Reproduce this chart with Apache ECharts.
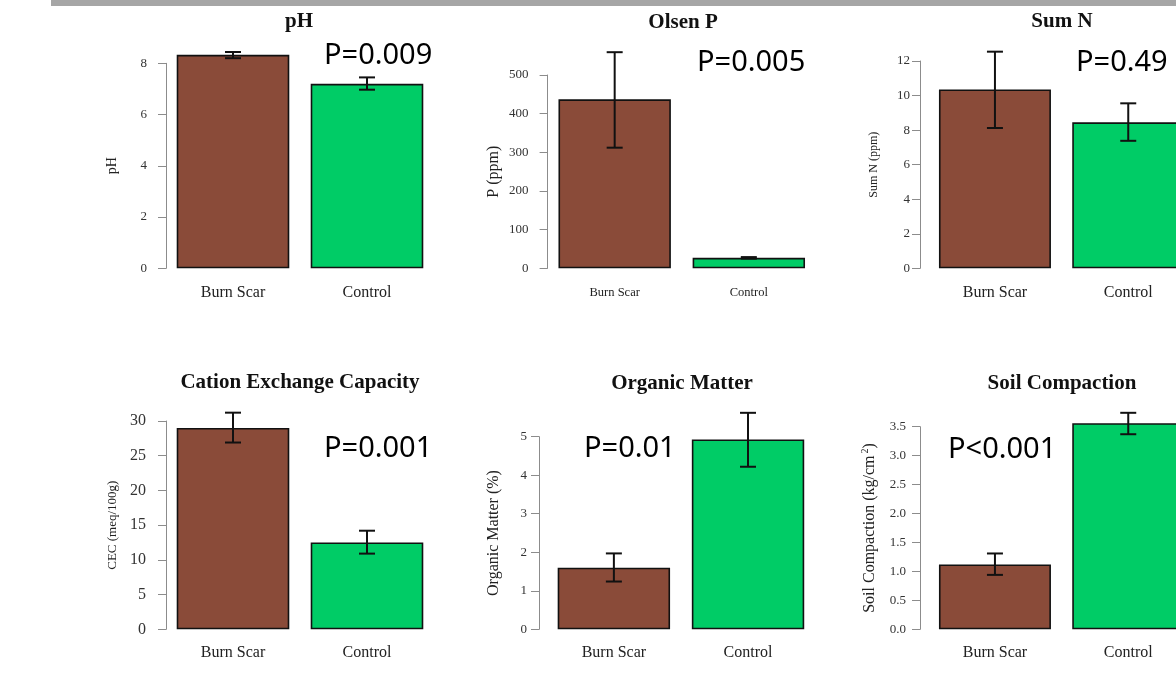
<!DOCTYPE html>
<html>
<head>
<meta charset="utf-8">
<script src="https://cdn.jsdelivr.net/npm/echarts@6/dist/echarts.min.js"></script>
<style>
  html, body { margin: 0; padding: 0; background: #ffffff; }
  #chart { width: 1176px; height: 673px; }
</style>
</head>
<body>
<div id="chart"></div>
<script>
// ---------------- data ----------------
var categories = ['Burn Scar', 'Control'];

var phMean = [8.33, 7.20];
var phLow  = [8.20, 6.97];
var phHigh = [8.44, 7.45];

var olsenMean = [437, 27];
var olsenLow  = [312, 25];
var olsenHigh = [559, 29];

var sumNMean = [10.35, 8.45];
var sumNLow  = [8.12, 7.38];
var sumNHigh = [12.54, 9.55];

var cecMean = [29.0, 12.5];
var cecLow  = [26.9, 10.9];
var cecHigh = [31.2, 14.2];

var omMean = [1.60, 4.93];
var omLow  = [1.24, 4.22];
var omHigh = [1.97, 5.62];

var soilMean = [1.12, 3.56];
var soilLow  = [0.94, 3.37];
var soilHigh = [1.31, 3.74];

var panelTitles = ['pH', 'Olsen P', 'Sum N', 'Cation Exchange Capacity', 'Organic Matter', 'Soil Compaction'];
var yNames = ['pH', 'P (ppm)', 'Sum N (ppm)', 'CEC (meq/100g)', 'Organic Matter (%)', 'Soil Compaction (kg/cm{sup|2})'];
var pValues = ['P=0.009', 'P=0.005', 'P=0.49', 'P=0.001', 'P=0.01', 'P<0.001'];
var yMaxTicks = [8, 500, 12, 30, 5, 3.5];
var yIntervals = [2, 100, 2, 5, 1, 0.5];
var yDecimals = [0, 0, 0, 0, 0, 1];

var means = [phMean, olsenMean, sumNMean, cecMean, omMean, soilMean];
var lows  = [phLow, olsenLow, sumNLow, cecLow, omLow, soilLow];
var highs = [phHigh, olsenHigh, sumNHigh, cecHigh, omHigh, soilHigh];

// ---------------- layout (pixels) ----------------
var layout = [
  { left: 166,   top: 63.3,  width: 268,   height: 205,   offset: 0,   bw: 112.6, xFont: 16, xMargin: 16, yFont: 13, yMargin: 19, nameFont: 14, nameGap: 47,
    title: [299, 22], p: [324, 56] },
  { left: 547.6, top: 75,    width: 268.3, height: 193.3, offset: 0,   bw: 112.4, xFont: 12.5, xMargin: 18, yFont: 13, yMargin: 19, nameFont: 16, nameGap: 46,
    title: [683, 23], p: [697, 63] },
  { left: 928.3, top: 61,    width: 266.6, height: 207.3, offset: 8.3, bw: 112,   xFont: 16, xMargin: 16, yFont: 13, yMargin: 10, nameFont: 12, nameGap: 40,
    title: [1062, 22], p: [1076, 63] },
  { left: 166,   top: 421,   width: 268,   height: 208.3, offset: 0,   bw: 112.6, xFont: 16, xMargin: 15, yFont: 16, yMargin: 20, nameFont: 13, nameGap: 47,
    title: [300, 383], p: [324, 449] },
  { left: 546.8, top: 436.7, width: 268.3, height: 192.6, offset: 7.8, bw: 112.4, xFont: 16, xMargin: 15, yFont: 13, yMargin: 12, nameFont: 16, nameGap: 37,
    title: [682, 384], p: [584, 449] },
  { left: 928.3, top: 426.7, width: 266.6, height: 202.6, offset: 8.3, bw: 112,   xFont: 16, xMargin: 15, yFont: 13, yMargin: 14, nameFont: 16, nameGap: 40,
    title: [1062, 384], p: [948, 450] }
];

var barColors = ['#8A4B39', '#00CC66'];
var serif = '"Liberation Serif", "Times New Roman", serif';

var grids = [], xAxes = [], yAxes = [], series = [], titles = [];

for (var i = 0; i < 6; i++) {
  var L = layout[i];
  grids.push({ left: L.left, top: L.top, width: L.width, height: L.height, outerBoundsMode: 'none', containLabel: false });
  xAxes.push({
    type: 'category', gridIndex: i, data: categories,
    axisLine: { show: false }, axisTick: { show: false }, splitLine: { show: false },
    axisLabel: { fontFamily: serif, fontSize: L.xFont, color: '#222', margin: L.xMargin }
  });
  (function (dec) {
    yAxes.push({
      type: 'value', gridIndex: i, min: 0, max: yMaxTicks[i], interval: yIntervals[i], offset: L.offset,
      name: yNames[i], nameLocation: 'middle', nameGap: L.nameGap,
      nameTextStyle: { fontFamily: serif, fontSize: L.nameFont, color: '#222',
        rich: { sup: { fontFamily: serif, fontSize: 10, color: '#222', padding: [0, 0, 10, 2] } } },
      axisLine: { show: true, lineStyle: { color: '#8c8c8c', width: 1 } },
      axisTick: { show: true, length: 8, lineStyle: { color: '#8c8c8c', width: 1 } },
      splitLine: { show: false },
      axisLabel: { fontFamily: serif, fontSize: L.yFont, color: '#333', margin: L.yMargin,
        formatter: function (v) { return v.toFixed(dec); } }
    });
  })(yDecimals[i]);

  series.push({
    type: 'bar', xAxisIndex: i, yAxisIndex: i, barWidth: L.bw, clip: false, z: 2,
    data: means[i].map(function (v, k) {
      return { value: v, itemStyle: { color: barColors[k] } };
    }),
    itemStyle: { borderColor: '#111', borderWidth: 1.6 },
    emphasis: { disabled: true }, silent: true
  });

  series.push({
    type: 'custom', xAxisIndex: i, yAxisIndex: i, clip: false, z: 5, silent: true,
    data: categories.map(function (c, k) { return [k, lows[i][k], highs[i][k]]; }),
    encode: { x: 0, y: [1, 2] },
    renderItem: function (params, api) {
      var lo = api.coord([api.value(0), api.value(1)]);
      var hi = api.coord([api.value(0), api.value(2)]);
      var hw = 8;
      var st = { stroke: '#111', lineWidth: 2 };
      return {
        type: 'group',
        children: [
          { type: 'line', shape: { x1: lo[0], y1: lo[1], x2: hi[0], y2: hi[1] }, style: st },
          { type: 'line', shape: { x1: lo[0] - hw, y1: lo[1], x2: lo[0] + hw, y2: lo[1] }, style: st },
          { type: 'line', shape: { x1: hi[0] - hw, y1: hi[1], x2: hi[0] + hw, y2: hi[1] }, style: st }
        ]
      };
    }
  });

  titles.push({
    text: panelTitles[i], left: L.title[0], top: L.title[1], textAlign: 'center', textVerticalAlign: 'middle',
    padding: 0,
    textStyle: { fontFamily: serif, fontWeight: 'bold', fontSize: 21, color: '#111' }
  });
  titles.push({
    text: pValues[i], left: L.p[0], top: L.p[1], textVerticalAlign: 'middle', padding: 0,
    textStyle: { fontFamily: '"Noto Sans", "Open Sans", sans-serif', fontWeight: 'normal', fontSize: 29, color: '#000' }
  });
}

var chart = echarts.init(document.getElementById('chart'), null, { renderer: 'canvas' });
chart.setOption({
  backgroundColor: '#ffffff',
  animation: false,
  title: titles,
  grid: grids,
  xAxis: xAxes,
  yAxis: yAxes,
  series: series,
  graphic: [
    { type: 'rect', left: 51, top: 0, shape: { width: 1125, height: 6 }, style: { fill: '#a6a6a6' }, silent: true }
  ]
});
</script>
</body>
</html>
